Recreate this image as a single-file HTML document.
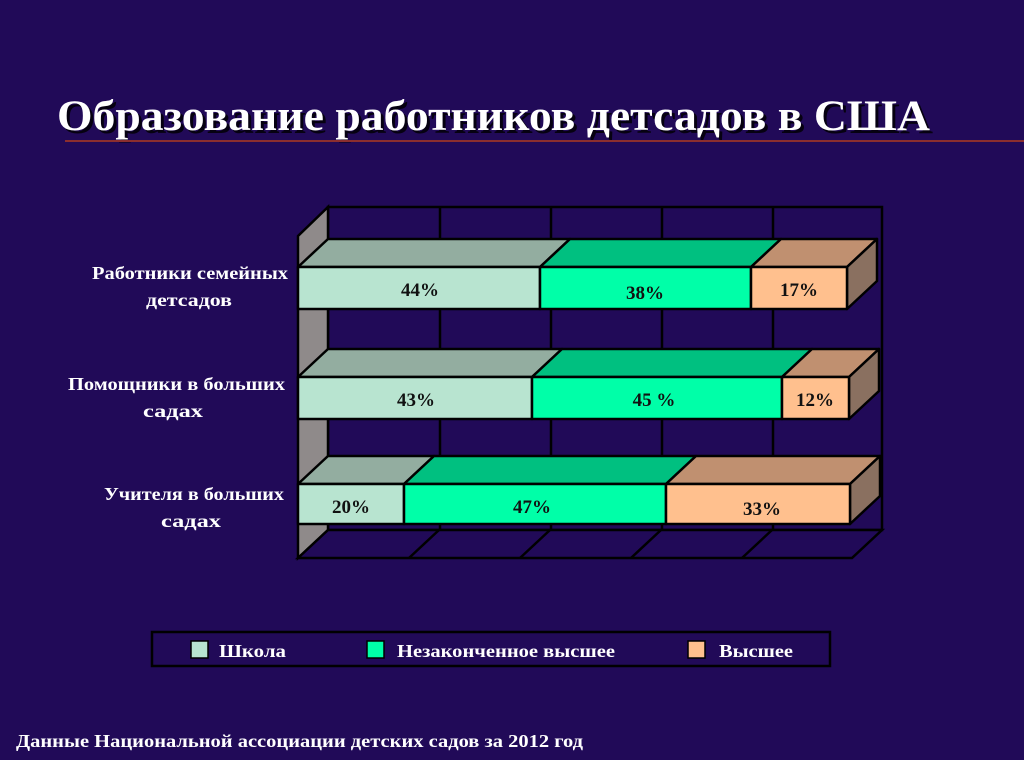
<!DOCTYPE html>
<html><head><meta charset="utf-8"><style>
body{margin:0;background:#210a58;}
svg{display:block}
text{font-family:"Liberation Serif",serif;font-weight:bold}
</style></head><body>
<svg width="1024" height="760" viewBox="0 0 1024 760" xmlns="http://www.w3.org/2000/svg">
<rect width="1024" height="760" fill="#210a58"/>
<text x="60" y="133" font-size="43" fill="#000" opacity="0.8" textLength="873" lengthAdjust="spacingAndGlyphs">Образование работников детсадов в США</text>
<text x="57" y="130" font-size="43" fill="#fff" textLength="873" lengthAdjust="spacingAndGlyphs">Образование работников детсадов в США</text>
<line x1="65" y1="141" x2="1024" y2="141" stroke="#8b2e2e" stroke-width="2"/>

<g stroke="#000" stroke-width="2.5" fill="none">
<rect x="328" y="207" width="554" height="323" fill="#210a58"/>
<line x1="440" y1="207" x2="440" y2="530"/>
<line x1="551" y1="207" x2="551" y2="530"/>
<line x1="662" y1="207" x2="662" y2="530"/>
<line x1="773" y1="207" x2="773" y2="530"/>
<polygon points="298,236 328,207 328,530 298,558" fill="#8f8a8a"/>
<polygon points="298,558 328,530 882,530 852,558" fill="#210a58"/>
<line x1="409" y1="558" x2="439" y2="530"/>
<line x1="520" y1="558" x2="550" y2="530"/>
<line x1="631" y1="558" x2="661" y2="530"/>
<line x1="742" y1="558" x2="772" y2="530"/>
</g>

<g stroke="#000" stroke-width="2.5" stroke-linejoin="round">
<polygon points="298,267 328,239 570,239 540,267" fill="#93ada0"/>
<polygon points="540,267 570,239 781,239 751,267" fill="#00c080"/>
<polygon points="751,267 781,239 877,239 847,267" fill="#c09070"/>
<polygon points="847,267 877,239 877,281 847,309" fill="#8a7060"/>
<rect x="298" y="267" width="242" height="42" fill="#b8e4d0"/>
<rect x="540" y="267" width="211" height="42" fill="#00ffa8"/>
<rect x="751" y="267" width="96" height="42" fill="#ffc08e"/>
<polygon points="298,377 328,349 562,349 532,377" fill="#93ada0"/>
<polygon points="532,377 562,349 812,349 782,377" fill="#00c080"/>
<polygon points="782,377 812,349 879,349 849,377" fill="#c09070"/>
<polygon points="849,377 879,349 879,391 849,419" fill="#8a7060"/>
<rect x="298" y="377" width="234" height="42" fill="#b8e4d0"/>
<rect x="532" y="377" width="250" height="42" fill="#00ffa8"/>
<rect x="782" y="377" width="67" height="42" fill="#ffc08e"/>
<polygon points="298,484 328,456 434,456 404,484" fill="#93ada0"/>
<polygon points="404,484 434,456 696,456 666,484" fill="#00c080"/>
<polygon points="666,484 696,456 880,456 850,484" fill="#c09070"/>
<polygon points="850,484 880,456 880,496 850,524" fill="#8a7060"/>
<rect x="298" y="484" width="106" height="40" fill="#b8e4d0"/>
<rect x="404" y="484" width="262" height="40" fill="#00ffa8"/>
<rect x="666" y="484" width="184" height="40" fill="#ffc08e"/>
</g>

<g font-size="19" fill="#111" text-anchor="middle">
<text x="420" y="296">44%</text>
<text x="645" y="299">38%</text>
<text x="799" y="296">17%</text>
<text x="416" y="406">43%</text>
<text x="654" y="406">45 %</text>
<text x="815" y="406">12%</text>
<text x="351" y="513">20%</text>
<text x="532" y="513">47%</text>
<text x="762" y="515">33%</text>
</g>

<g font-size="18" fill="#fff">
<text x="92" y="279" textLength="196" lengthAdjust="spacingAndGlyphs">Работники семейных</text>
<text x="146" y="306" textLength="86" lengthAdjust="spacingAndGlyphs">детсадов</text>
<text x="68" y="390" textLength="217" lengthAdjust="spacingAndGlyphs">Помощники в больших</text>
<text x="143" y="417" textLength="60" lengthAdjust="spacingAndGlyphs">садах</text>
<text x="104" y="500" textLength="180" lengthAdjust="spacingAndGlyphs">Учителя в больших</text>
<text x="161" y="527" textLength="60" lengthAdjust="spacingAndGlyphs">садах</text>
</g>

<rect x="152" y="632" width="678" height="34" fill="#210a58" stroke="#000" stroke-width="2.5"/>
<g stroke="#000" stroke-width="1.5">
<rect x="191" y="641" width="17" height="17" fill="#b8e4d0"/>
<rect x="367" y="641" width="17" height="17" fill="#00ffa8"/>
<rect x="688" y="641" width="17" height="17" fill="#ffc08e"/>
</g>
<g font-size="18" fill="#fff">
<text x="219" y="657" textLength="67" lengthAdjust="spacingAndGlyphs">Школа</text>
<text x="397" y="657" textLength="218" lengthAdjust="spacingAndGlyphs">Незаконченное высшее</text>
<text x="719" y="657" textLength="74" lengthAdjust="spacingAndGlyphs">Высшее</text>
</g>
<text x="16" y="747" font-size="18" fill="#fff" textLength="567" lengthAdjust="spacingAndGlyphs">Данные Национальной ассоциации детских садов за 2012 год</text>
</svg>
</body></html>
